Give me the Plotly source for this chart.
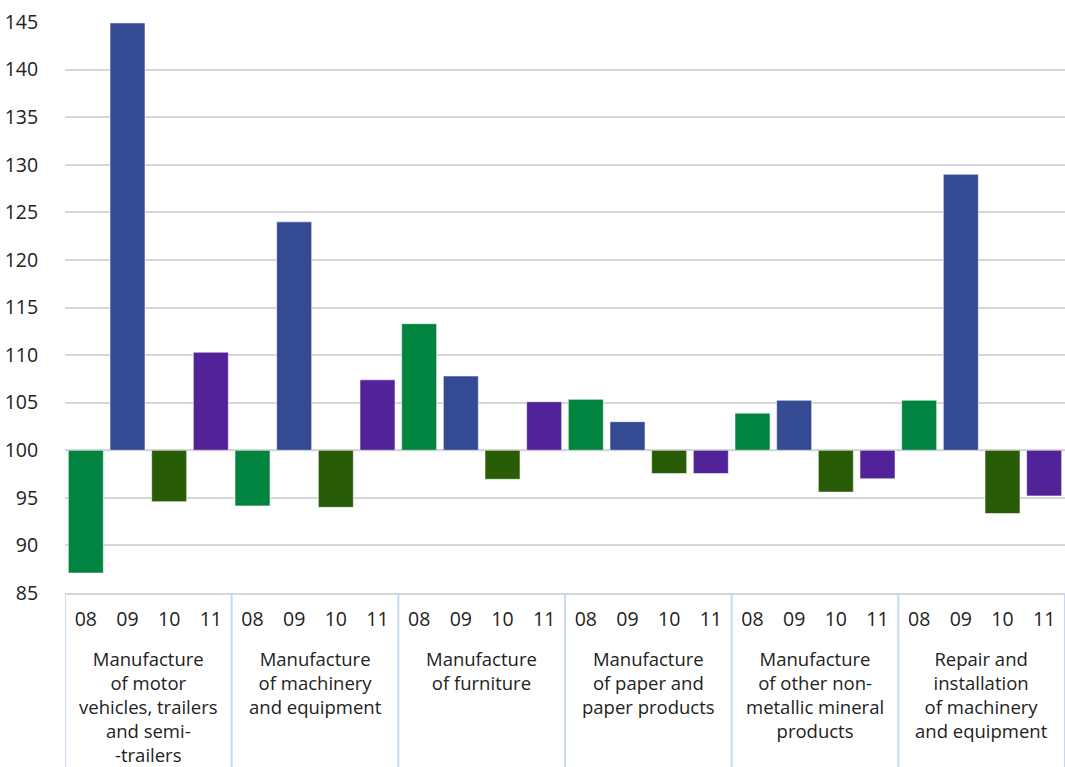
import plotly.graph_objects as go

groups = [
    "Manufacture<br>of motor<br>vehicles, trailers<br>and semi-<br>-trailers",
    "Manufacture<br>of machinery<br>and equipment",
    "Manufacture<br>of furniture",
    "Manufacture<br>of paper and<br>paper products",
    "Manufacture<br>of other non-<br>metallic mineral<br>products",
    "Repair and<br>installation<br>of machinery<br>and equipment",
]
months = ["08", "09", "10", "11"]

values = [
    [87.1, 144.9, 94.6, 110.3],
    [94.15, 124.0, 94.0, 107.4],
    [113.3, 107.8, 96.95, 105.1],
    [105.35, 103.0, 97.55, 97.55],
    [103.9, 105.25, 95.6, 97.0],
    [105.25, 129.0, 93.35, 95.2],
]
month_colors = ["#00843f", "#344a92", "#285c06", "#522299"]
base_value = 100

FONT = "Open Sans"
FSIZE = 19.5
TXT = "#222222"

xcat, xtext, ydiff, cols = [], [], [], []
for gi, vals in enumerate(values):
    for m, v, c in zip(months, vals, month_colors):
        xcat.append(f"{gi}-{m}")
        xtext.append(m)
        ydiff.append(v - base_value)
        cols.append(c)

fig = go.Figure()
fig.add_trace(go.Bar(
    x=xcat, y=ydiff, base=base_value,
    marker=dict(color=cols, line=dict(color="rgba(255,255,255,0.55)", width=1)),
    showlegend=False,
))

# baseline at 100
fig.add_shape(type="line", xref="paper", yref="y", x0=0, x1=1, y0=base_value, y1=base_value,
              line=dict(color="#c6d9f0", width=2), layer="below")

n_m = len(months)
# group dividers and group labels
for gi, g in enumerate(groups):
    fig.add_shape(type="line", xref="x", yref="paper",
                  x0=gi * n_m - 0.5, x1=gi * n_m - 0.5, y0=0, y1=-0.32,
                  line=dict(color="#c6d9f0", width=2))
    fig.add_annotation(x=gi * n_m + (n_m - 1) / 2, xref="x", y=-0.091, yref="paper",
                       text=g, showarrow=False, yanchor="top", xanchor="center",
                       align="center", borderpad=0,
                       font=dict(family=FONT, size=18.5, color=TXT))
fig.add_shape(type="line", xref="x", yref="paper",
              x0=len(groups) * n_m - 0.5, x1=len(groups) * n_m - 0.5, y0=0, y1=-0.32,
              line=dict(color="#c6d9f0", width=2))

fig.update_layout(
    width=1065, height=767,
    margin=dict(l=65, r=0, t=22, b=174, autoexpand=False),
    plot_bgcolor="white", paper_bgcolor="white",
    bargap=0.16,
    font=dict(family=FONT, size=FSIZE, color=TXT),
)
fig.update_yaxes(
    range=[85, 145], dtick=5, tick0=85,
    showgrid=True, gridcolor="#d6d6d6", gridwidth=2,
    zeroline=False, showline=False,
    ticks="outside", ticklen=22, tickcolor="rgba(0,0,0,0)",
    tickfont=dict(size=FSIZE, color=TXT), automargin=False,
)
fig.update_xaxes(
    type="category", categoryorder="array", categoryarray=xcat,
    tickvals=xcat, ticktext=xtext, range=[-0.5, len(xcat) - 0.5],
    showline=True, linecolor="#d6d6d6", linewidth=2,
    ticks="outside", ticklen=8, tickcolor="rgba(0,0,0,0)",
    tickfont=dict(size=FSIZE, color=TXT),
    showgrid=False, automargin=False,
)

fig.write_html("out.html", config={"displayModeBar": False},
               post_script="document.body.style.margin='0';document.body.style.overflow='hidden';")
